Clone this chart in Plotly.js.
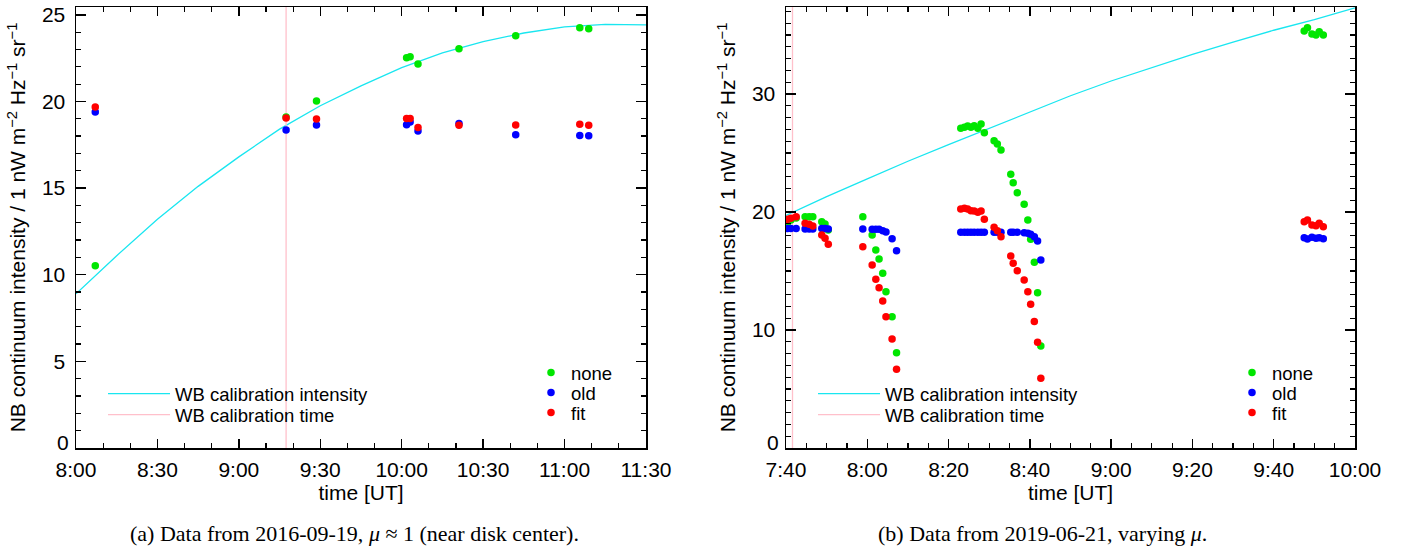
<!DOCTYPE html>
<html>
<head>
<meta charset="utf-8">
<script src="https://cdn.plot.ly/plotly-3.0.1.min.js"></script>
<style>html,body{margin:0;padding:0;background:#fff;}#plot{width:1410px;height:549px;}</style>
</head>
<body>
<div id="plot"></div>
<script>
// ---------- Panel (a): 2016-09-19 ----------
const dateA = '2016-09-19';
const timesA = ['08:07:06','09:17:24','09:28:36','10:01:48','10:03:06','10:06:00','10:21:06','10:42:00','11:05:36','11:08:54'];
const noneA = [10.52, 19.10, 20.02, 22.52, 22.58, 22.16, 23.04, 23.79, 24.25, 24.20];
const oldA  = [19.39, 18.35, 18.64, 18.66, 18.81, 18.29, 18.73, 18.08, 18.04, 18.02];
const fitA  = [19.68, 19.04, 18.98, 19.02, 19.02, 18.50, 18.62, 18.64, 18.68, 18.62];
const wbTimesA = ['08:00','08:15','08:30','08:45','09:00','09:15','09:30','09:45','10:00','10:15','10:30','10:45','11:00','11:15','11:30'];
const wbIntA   = [8.9, 11.1, 13.2, 15.1, 16.8, 18.4, 19.75, 20.9, 21.95, 22.8, 23.45, 23.95, 24.3, 24.45, 24.42];
const wbCalTimeA = '09:17:24';
const xRangeA = ['08:00','11:30'];
const yRangeA = [0, 25.45];

// ---------- Panel (b): 2019-06-21 ----------
const dateB = '2019-06-21';
const timesB = ['07:40:24','07:41:12','07:42:30','07:44:42','07:45:42','07:46:36','07:48:48','07:49:36','07:50:24',
  '07:58:54','08:01:12','08:02:06','08:02:54','08:03:48','08:04:36','08:06:06','08:07:12',
  '08:23:00','08:23:54','08:24:42','08:25:30','08:26:18','08:27:12','08:28:00','08:28:48','08:31:12','08:32:00','08:32:54',
  '08:35:18','08:35:54','08:36:54','08:38:36','08:39:30','08:40:12','08:41:06','08:41:54','08:42:42',
  '09:47:30','09:48:18','09:49:24','09:50:24','09:51:12','09:52:12'];
const noneB = [19.10, 19.32, 19.50, 19.60, 19.60, 19.60, 19.18, 18.98, 18.47,
  19.60, 18.05, 16.78, 16.02, 14.80, 13.25, 11.13, 8.08,
  27.09, 27.18, 27.29, 27.18, 27.31, 27.09, 27.46, 26.72, 26.04, 25.76, 25.25,
  23.19, 22.48, 21.64, 20.65, 19.32, 17.69, 15.74, 13.16, 8.64,
  35.34, 35.62, 35.08, 35.00, 35.28, 35.00];
const oldB = [18.60, 18.60, 18.60, 18.56, 18.56, 18.56, 18.60, 18.60, 18.56,
  18.56, 18.53, 18.53, 18.53, 18.42, 18.31, 17.74, 16.72,
  18.28, 18.28, 18.28, 18.28, 18.28, 18.28, 18.28, 18.28, 18.28, 18.28, 18.28,
  18.28, 18.28, 18.28, 18.25, 18.19, 18.11, 17.91, 17.54, 15.93,
  17.82, 17.71, 17.86, 17.77, 17.82, 17.74];
const fitB = [19.38, 19.47, 19.60, 19.04, 18.96, 18.81, 18.05, 17.77, 17.26,
  17.06, 15.51, 14.30, 13.58, 12.46, 11.13, 9.24, 6.67,
  20.25, 20.31, 20.25, 20.11, 20.08, 19.97, 20.08, 19.38, 18.70, 18.42, 17.91,
  16.27, 15.65, 15.03, 14.24, 13.25, 12.18, 10.71, 8.96, 5.90,
  19.18, 19.32, 18.90, 18.84, 19.04, 18.75];
const wbTimesB = ['07:40','07:50','08:00','08:10','08:20','08:30','08:40','08:50','09:00','09:10','09:20','09:30','09:40','09:50','10:00'];
const wbIntB   = [19.7, 21.3, 22.8, 24.3, 25.7, 27.1, 28.5, 29.85, 31.1, 32.25, 33.35, 34.4, 35.4, 36.3, 37.3];
const wbCalTimeB = '07:41:36';
const xRangeB = ['07:40','10:00'];
const yRangeB = [0, 37.37];

const seriesNames = ['none','old','fit'];
const seriesColors = ['#00e600','#0000ff','#ff0000'];
const lineNames = ['WB calibration intensity','WB calibration time'];
const cyan = '#19e6f0';
const pink = '#ffc0cb';

const d = (date, arr) => arr.map(t => date + ' ' + t);

// legend ids: panel a -> legend..legend5, panel b -> legend6..legend10
function legId(n) { return n === 1 ? 'legend' : 'legend' + n; }

function panelTraces(date, times, vals, wbT, wbI, calT, yR, xa, ya, legBase) {
  const tr = [];
  tr.push({x: d(date, wbT), y: wbI, xaxis: xa, yaxis: ya, mode: 'lines', name: lineNames[0],
    line: {color: cyan, width: 1.3}, legend: legId(legBase), hoverinfo: 'skip'});
  tr.push({x: d(date, [calT, calT]), y: yR, xaxis: xa, yaxis: ya, mode: 'lines', name: lineNames[1],
    line: {color: pink, width: 1.3}, legend: legId(legBase + 1), hoverinfo: 'skip'});
  vals.forEach((v, i) => {
    tr.push({x: d(date, times), y: v, xaxis: xa, yaxis: ya, mode: 'markers', name: seriesNames[i],
      marker: {color: seriesColors[i], size: 7.5}, legend: legId(legBase + 2 + i)});
  });
  return tr;
}

const data = [].concat(
  panelTraces(dateA, timesA, [noneA, oldA, fitA], wbTimesA, wbIntA, wbCalTimeA, yRangeA, 'x', 'y', 1),
  panelTraces(dateB, timesB, [noneB, oldB, fitB], wbTimesB, wbIntB, wbCalTimeB, yRangeB, 'x2', 'y2', 6)
);

const W = 1410, H = 549;
const fontFam = 'Liberation Sans, Arial, sans-serif';
const ytitle = 'NB continuum intensity / 1 nW m<sup>−2</sup> Hz<sup>−1</sup> sr<sup>−1</sup>';

function xaxisCfg(date, range, dtick, minorDtick, domain, anchor) {
  return {
    type: 'date', range: d(date, range), domain: domain, anchor: anchor,
    tickformat: '%-H:%M', dtick: dtick, tick0: d(date, [range[0]])[0],
    ticks: 'inside', ticklen: 9, tickwidth: 1.5, tickcolor: '#000',
    minor: {dtick: minorDtick, ticks: 'inside', ticklen: 5, tickwidth: 1.2, tickcolor: '#000', showgrid: false},
    showline: true, linecolor: '#000', linewidth: 1.5, mirror: 'ticks',
    showgrid: false, zeroline: false,
    tickfont: {family: fontFam, size: 21, color: '#000'},
    ticklabelstandoff: 2,
    title: {text: 'time [UT]', font: {family: fontFam, size: 21, color: '#000'}, standoff: 3}
  };
}
function yaxisCfg(range, dtick, domain, anchor) {
  const vals = [];
  for (let v = dtick; v <= range[1]; v += dtick) vals.push(v);
  return {
    range: range, domain: domain, anchor: anchor, tickmode: 'array', tickvals: vals,
    ticks: 'inside', ticklen: 10, tickwidth: 1.5, tickcolor: '#000',
    minor: {dtick: 1, tick0: 0, ticks: 'inside', ticklen: 5, tickwidth: 1.2, tickcolor: '#000', showgrid: false},
    showline: true, linecolor: '#000', linewidth: 1.5, mirror: 'ticks',
    showgrid: false, zeroline: false,
    tickfont: {family: fontFam, size: 21, color: '#000'},
    ticklabelstandoff: 5,
    title: {text: ytitle, font: {family: fontFam, size: 21, color: '#000'}, standoff: 10}
  };
}

const legFont = {family: fontFam, size: 18.5, color: '#000'};
function leg(xpx, rowCenterPx, itemwidth) {
  const o = {x: xpx / W, y: 1 - (rowCenterPx - 19) / H, xanchor: 'left', yanchor: 'top',
    bgcolor: 'rgba(0,0,0,0)', font: legFont};
  if (itemwidth) o.itemwidth = itemwidth;
  return o;
}

const layout = {
  width: W, height: H,
  margin: {l: 0, r: 0, t: 0, b: 0},
  paper_bgcolor: '#fff', plot_bgcolor: '#fff',
  showlegend: true,
  xaxis: xaxisCfg(dateA, xRangeA, 30 * 60000, 10 * 60000, [76 / W, 646 / W], 'y'),
  yaxis: yaxisCfg(yRangeA, 5, [101 / H, 542 / H], 'x'),
  xaxis2: xaxisCfg(dateB, xRangeB, 20 * 60000, 5 * 60000, [786 / W, 1355 / W], 'y2'),
  yaxis2: yaxisCfg(yRangeB, 10, [101 / H, 542 / H], 'x2'),
  legend:   leg(103, 394, 62),
  legend2:  leg(103, 415, 62),
  legend3:  leg(531, 373),
  legend4:  leg(531, 393),
  legend5:  leg(531, 413),
  legend6:  leg(813, 394, 62),
  legend7:  leg(813, 415, 62),
  legend8:  leg(1232, 373),
  legend9:  leg(1232, 393),
  legend10: leg(1232, 413),
  annotations: [
    {text: '0', xref: 'x domain', yref: 'y', x: 0, y: 0, xanchor: 'right', yanchor: 'middle',
      xshift: -5, yshift: 6, showarrow: false, font: {family: fontFam, size: 21, color: '#000'}},
    {text: '0', xref: 'x2 domain', yref: 'y2', x: 0, y: 0, xanchor: 'right', yanchor: 'middle',
      xshift: -5, yshift: 6, showarrow: false, font: {family: fontFam, size: 21, color: '#000'}},
    {text: '(a) Data from 2016-09-19, <i>μ</i> ≈ 1 (near disk center).', xref: 'paper', yref: 'paper',
      x: 355 / W, y: 1 - 533 / H, xanchor: 'center', yanchor: 'middle', showarrow: false,
      font: {family: 'Liberation Serif, Times New Roman, serif', size: 22, color: '#000'}},
    {text: '(b) Data from 2019-06-21, varying <i>μ</i>.', xref: 'paper', yref: 'paper',
      x: 1042 / W, y: 1 - 533 / H, xanchor: 'center', yanchor: 'middle', showarrow: false,
      font: {family: 'Liberation Serif, Times New Roman, serif', size: 22, color: '#000'}}
  ]
};

Plotly.newPlot('plot', data, layout, {displayModeBar: false, staticPlot: true});
</script>
</body>
</html>
